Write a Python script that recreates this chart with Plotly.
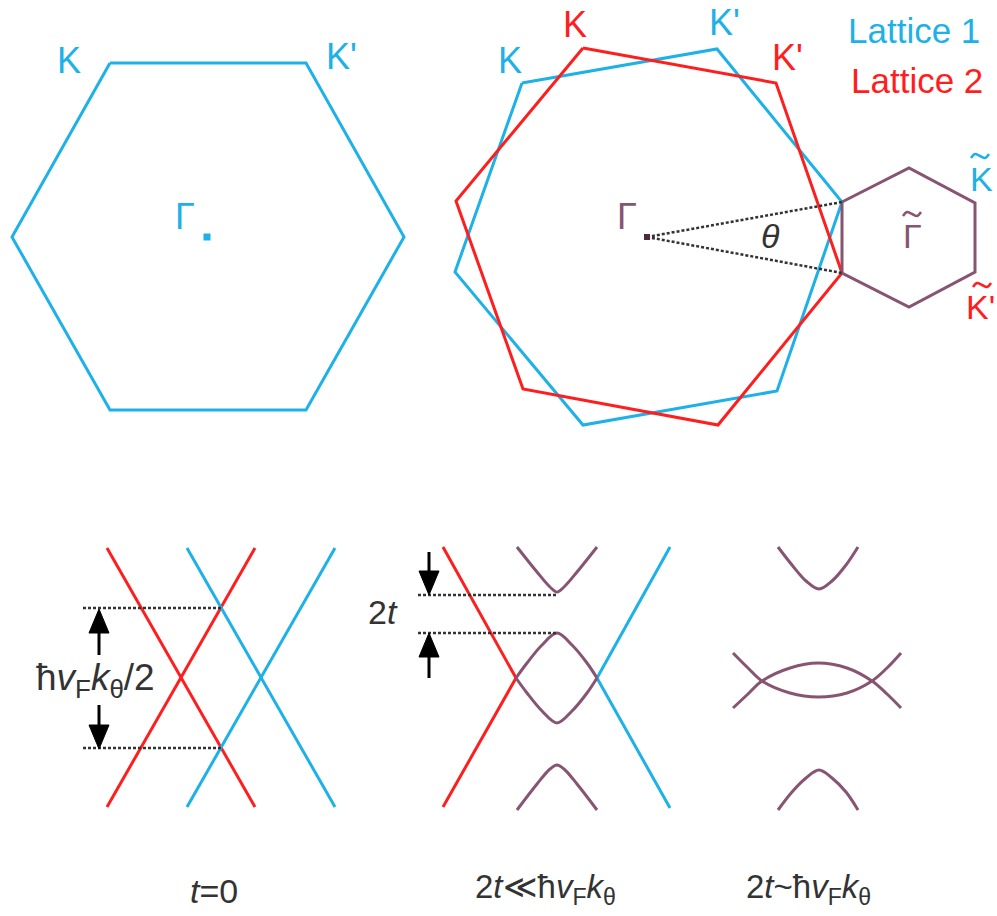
import plotly.graph_objects as go

# ---- colours -------------------------------------------------------------
BLUE = "#1EB1E7"
RED = "#FF1E1E"
PURPLE = "#875472"
DARK = "#333333"
FONT = "Liberation Sans, Arial, sans-serif"

# ---- Brillouin zones (canvas units, y grows downward) ----------------------
# single-layer zone
bz_single_x = [110, 306, 404, 306, 110, 12, 110]
bz_single_y = [63, 63, 237, 410, 410, 237, 63]
gamma_single = (207, 237)

# lattice 1 and lattice 2 zones, rotated by theta around the common Gamma point
bz_lat1_x = [522, 717, 842, 777, 583, 455, 522]
bz_lat1_y = [83, 49, 202, 391, 425, 272, 83]
bz_lat2_x = [583, 776, 842, 718, 523, 456, 583]
bz_lat2_y = [48, 83, 273, 425, 389, 201, 48]
gamma_twisted = (647, 237)

# mini (moire) zone
bz_moire_x = [842, 909, 975, 975, 909, 842, 842]
bz_moire_y = [202, 168, 203, 272, 307, 273, 202]

# rays from Gamma to the two K points that define theta
ray_upper = ([647, 842], [237, 202])
ray_lower = ([647, 842], [237, 273])

# ---- band structures ------------------------------------------------------
# t = 0 : two Dirac cones (lattice 2 red, lattice 1 blue)
cone_t0 = {
    "red": [([107, 255], [548, 807]), ([255, 107], [548, 807])],
    "blue": [([187, 335], [548, 807]), ([335, 187], [548, 807])],
}
gap_t0_y = [608, 748]
gap_t0_x = [83, 222]

# weak coupling: outer branches stay, inner ones hybridise
weak_red = ([443, 516, 443], [547, 678, 807])
weak_blue = ([670, 597, 670], [547, 678, 808])
weak_bands = [
    ([517, 537, 550, 557, 564, 577, 597], [547, 572, 587, 592, 587, 572, 547]),
    ([516, 527, 542, 557, 572, 587, 597], [678, 663, 645, 633, 645, 663, 678]),
    ([516, 527, 542, 557, 572, 587, 597], [678, 693, 711, 723, 711, 693, 678]),
    ([517, 537, 550, 557, 564, 577, 597], [810, 784, 769, 765, 769, 784, 810]),
]
gap_weak_y = [595, 633]
gap_weak_x = [418, 557]

# strong coupling: flattened bands
strong_bands = [
    ([778, 792, 806, 819, 832, 846, 858], [547, 565, 581, 589, 581, 565, 547]),
    ([733, 748, 762, 790, 818, 847, 872, 887, 901], [653, 668, 681, 693, 697, 693, 681, 668, 653]),
    ([733, 748, 762, 790, 818, 847, 872, 887, 901], [708, 694, 681, 668, 663, 668, 681, 694, 708]),
    ([778, 792, 806, 819, 832, 846, 858], [810, 792, 778, 770, 778, 792, 810]),
]

# arrows: (x, tail_y, tip_y)
arrows = [(99, 655, 609), (99, 705, 749), (429, 552, 595), (429, 678, 633)]

# tilde accents over the mini-zone symbols: (centre x, centre y, colour)
tildes = [(912, 214, PURPLE), (980, 156, BLUE), (982, 285, RED)]
TILDE_DX = [-9, -5, 0, 5, 9]
TILDE_DY = [2, -2, 0, 2, -2]

fig = go.Figure()


def line(x, y, color, width=3, dash=None, shape="linear"):
    fig.add_trace(go.Scatter(
        x=x, y=y, mode="lines",
        line=dict(color=color, width=width, dash=dash, shape=shape),
        hoverinfo="skip", showlegend=False))


DOTS = "3px,2px"

# zones
line(bz_single_x, bz_single_y, BLUE)
line(bz_lat1_x, bz_lat1_y, BLUE)
line(bz_lat2_x, bz_lat2_y, RED)
line(bz_moire_x, bz_moire_y, PURPLE)
line(*ray_upper, DARK, width=2.5, dash=DOTS)
line(*ray_lower, DARK, width=2.5, dash=DOTS)

fig.add_trace(go.Scatter(x=[gamma_single[0]], y=[gamma_single[1]], mode="markers",
                         marker=dict(color=BLUE, size=7, symbol="square"),
                         hoverinfo="skip", showlegend=False))
fig.add_trace(go.Scatter(x=[gamma_twisted[0]], y=[gamma_twisted[1]], mode="markers",
                         marker=dict(color="#4a2c3e", size=6, symbol="square"),
                         hoverinfo="skip", showlegend=False))

# t = 0 cones
for seg in cone_t0["red"]:
    line(*seg, RED)
for seg in cone_t0["blue"]:
    line(*seg, BLUE)
for yy in gap_t0_y:
    line(gap_t0_x, [yy, yy], DARK, width=2.5, dash=DOTS)

# weak coupling
line(*weak_red, RED)
line(*weak_blue, BLUE)
for bx, by in weak_bands:
    line(bx, by, PURPLE, shape="spline")
for yy in gap_weak_y:
    line(gap_weak_x, [yy, yy], DARK, width=2.5, dash=DOTS)

# strong coupling
for bx, by in strong_bands:
    line(bx, by, PURPLE, shape="spline")

# arrows: shaft + filled head
HEAD_LEN, HEAD_HALF = 24, 10
for ax_, tail, tip in arrows:
    sgn = 1 if tip > tail else -1
    base = tip - sgn * HEAD_LEN
    line([ax_, ax_], [tail, base], "black", width=3)
    fig.add_trace(go.Scatter(
        x=[ax_ - HEAD_HALF, ax_ + HEAD_HALF, ax_, ax_ - HEAD_HALF],
        y=[base, base, tip, base], mode="lines", fill="toself",
        fillcolor="black", line=dict(color="black", width=1),
        hoverinfo="skip", showlegend=False))

# tilde accents
for tx, ty, col in tildes:
    line([tx + d for d in TILDE_DX], [ty + d for d in TILDE_DY], col,
         width=2.5, shape="spline")

# ---- labels ---------------------------------------------------------------
labels = [
    ("K", 69, 60, BLUE, 36, "center"),
    ("K'", 341, 56, BLUE, 36, "center"),
    ("Γ", 185, 216, BLUE, 36, "center"),
    ("K", 510, 60, BLUE, 36, "center"),
    ("K", 575, 24, RED, 36, "center"),
    ("K'", 724, 22, BLUE, 36, "center"),
    ("K'", 787, 57, RED, 36, "center"),
    ("Lattice 1", 914, 30, BLUE, 35, "center"),
    ("Lattice 2", 917, 80, RED, 35, "center"),
    ("Γ", 627, 216, PURPLE, 36, "center"),
    ("<i>θ</i>", 770, 236, DARK, 34, "center"),
    ("Γ", 912, 236, PURPLE, 34, "center"),
    ("K", 981, 179, BLUE, 34, "center"),
    ("K'", 997, 307, RED, 34, "right"),
    ("ħ<i>v</i><sub>F</sub><i>k</i><sub>θ</sub>/2", 95, 680, DARK, 37, "center"),
    ("2<i>t</i>", 383, 612, DARK, 34, "center"),
    ("<i>t</i>=0", 214, 891, DARK, 34, "center"),
    ("2<i>t</i>≪ħ<i>v</i><sub>F</sub><i>k</i><sub>θ</sub>", 545, 889, DARK, 33, "center"),
    ("2<i>t</i>~ħ<i>v</i><sub>F</sub><i>k</i><sub>θ</sub>", 808, 889, DARK, 33, "center"),
]

for txt, x, y, col, size, anchor in labels:
    fig.add_annotation(x=x, y=y, text=txt, showarrow=False, xanchor=anchor,
                       yanchor="middle", font=dict(family=FONT, size=size, color=col))

fig.update_layout(
    width=997, height=916, margin=dict(l=0, r=0, t=0, b=0),
    paper_bgcolor="white", plot_bgcolor="white",
    xaxis=dict(range=[0, 997], visible=False, fixedrange=True),
    yaxis=dict(range=[916, 0], visible=False, fixedrange=True),
    showlegend=False,
)

fig.write_html("out.html")
